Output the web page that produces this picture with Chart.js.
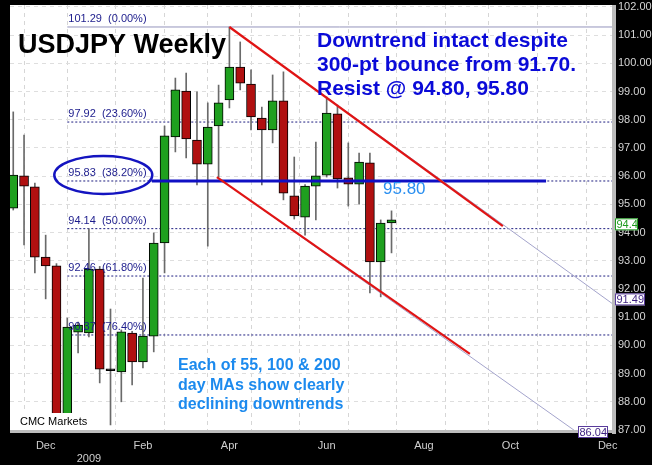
<!DOCTYPE html>
<html>
<head>
<meta charset="utf-8">
<script src="https://cdn.jsdelivr.net/npm/chart.js@4.4.1/dist/chart.umd.min.js"></script>
<style>
  html, body { margin: 0; background: #000; }
  #wrap { width: 652px; height: 465px; }
</style>
</head>
<body>
<div id="wrap"><canvas id="chart"></canvas></div>
<script>
// weekly candles, index 0 = week of 10 Nov 2008
const opens  = [94.87, 96.01, 95.62, 93.13, 92.82, 87.30, 90.47, 90.44, 92.71, 89.10, 89.06, 90.44, 89.41, 90.33, 93.63, 97.39, 99.02, 97.28,
                96.43, 97.78, 98.70, 99.87, 99.27, 98.06, 97.64, 98.67, 95.30, 94.55, 95.65, 96.04, 98.21, 95.94, 95.72, 96.47, 92.96, 94.34];
const highs  = [98.28, 97.46, 95.76, 93.91, 92.90, 90.97, 90.83, 94.13, 92.80, 91.29, 90.55, 90.50, 92.39, 93.99, 97.78, 99.48, 99.66, 98.99,
                98.60, 99.23, 101.29, 100.76, 99.77, 98.45, 99.59, 99.70, 96.68, 95.70, 97.21, 98.81, 98.52, 97.18, 96.82, 96.82, 94.45, 94.77];
const lows   = [94.80, 93.56, 92.57, 91.65, 87.13, 87.13, 89.73, 90.30, 88.67, 87.18, 88.00, 88.60, 89.20, 89.77, 92.57, 96.86, 96.65, 95.69,
                93.52, 95.97, 98.42, 99.06, 97.64, 95.69, 97.18, 95.16, 94.48, 93.91, 94.45, 95.97, 95.58, 94.94, 95.01, 91.86, 91.72, 93.28];
const closes = [96.04, 95.65, 93.13, 92.82, 87.30, 90.65, 90.72, 92.71, 89.16, 89.10, 90.48, 89.41, 90.33, 93.63, 97.43, 99.06, 97.32, 96.43,
                97.74, 98.60, 99.87, 99.30, 98.10, 97.64, 98.67, 95.40, 94.59, 95.65, 96.01, 98.24, 95.90, 95.72, 96.50, 92.96, 94.34, 94.45];

// fibonacci retracement of the 101.29 high
const fibLevels = [101.29, 97.92, 95.83, 94.14, 92.46, 90.37];
const fibPcts   = ['0.00%', '23.60%', '38.20%', '50.00%', '61.80%', '76.40%'];
const fibStart  = 5;

// month ticks (week index) and their labels
const monthTicks  = [3, 7, 12, 16, 20, 24, 29, 33, 38, 42, 46, 51, 55];
const monthLabels = ['Dec', ['', '2009'], 'Feb', '', 'Apr', '', 'Jun', '', 'Aug', '', 'Oct', '', 'Dec'];
const priceTicks  = [87, 88, 89, 90, 91, 92, 93, 94, 95, 96, 97, 98, 99, 100, 101, 102];

// channel lines: [start, end of red part, right edge]
const upperChannel = [{ x: 20, y: 101.29 }, { x: 45.3, y: 94.23 }, { x: 55.4, y: 91.49 }];
const lowerChannel = [{ x: 18.84, y: 95.97 }, { x: 42.25, y: 89.70 }, { x: 55.4, y: 86.04 }];
const resistLine   = [{ x: 12.83, y: 95.83 }, { x: 49.3, y: 95.83 }];

const X_MIN = -0.3, X_MAX = 55.4;
const FONT = '"Liberation Sans", Arial, sans-serif';

const candleColor = i => closes[i] > opens[i] ? '#1fa01f' : closes[i] < opens[i] ? '#b01010' : '#000';

const wickData = highs.map((h, i) => ({ x: i, y: [lows[i], h] }));
const bodyData = opens.map((o, i) => ({ x: i, y: [Math.min(o, closes[i]), Math.max(o, closes[i])] }));

const fibSets = fibLevels.map((lv, i) => ({
  type: 'line',
  data: [{ x: fibStart, y: lv }, { x: X_MAX, y: lv }],
  borderColor: i === 0 ? '#9494bc' : '#1e1e80',
  borderWidth: 1,
  borderDash: i === 0 ? [] : [2, 2],
  pointRadius: 0,
  order: 10,
}));

const lineSet = (data, color, width, order) => ({
  type: 'line', data, borderColor: color, borderWidth: width, pointRadius: 0, order,
});

const noPad = s => { s.paddingTop = 0; s.paddingBottom = 0; s.paddingLeft = 0; s.paddingRight = 0; };

const overlay = {
  id: 'overlay',
  beforeDraw(chart) {
    const { ctx, chartArea: a } = chart;
    ctx.save();
    ctx.fillStyle = '#000';
    ctx.fillRect(0, 0, chart.width, chart.height);
    ctx.fillStyle = '#fff';
    ctx.fillRect(a.left, a.top, a.right - a.left, a.bottom - a.top);
    ctx.restore();
  },
  afterDatasetsDraw(chart) {
    const { ctx, chartArea: a } = chart;
    const xs = chart.scales.x, ys = chart.scales.y;
    ctx.save();

    // fib labels
    ctx.font = '11px ' + FONT;
    ctx.fillStyle = '#1c1c8c';
    ctx.textBaseline = 'alphabetic';
    const fx = xs.getPixelForValue(fibStart) + 1;
    fibLevels.forEach((lv, i) => {
      ctx.fillText(`${lv.toFixed(2)}  (${fibPcts[i]})`, fx, ys.getPixelForValue(lv) - 5);
    });

    // ellipse around 38.2%
    ctx.strokeStyle = '#1414c0';
    ctx.lineWidth = 2.5;
    ctx.beginPath();
    ctx.ellipse(fx + 35, ys.getPixelForValue(95.83) - 6, 49, 19, 0, 0, Math.PI * 2);
    ctx.stroke();

    // title
    ctx.fillStyle = '#000';
    ctx.font = 'bold 27px ' + FONT;
    ctx.fillText('USDJPY Weekly', a.left + 8, 53);

    // commentary
    ctx.fillStyle = '#0a0ad8';
    ctx.font = 'bold 21px ' + FONT;
    ['Downtrend intact despite', '300-pt bounce from 91.70.', 'Resist @ 94.80, 95.80']
      .forEach((t, i) => ctx.fillText(t, 317, 47 + i * 24));

    ctx.fillStyle = '#2a8ff0';
    ctx.font = '17px ' + FONT;
    ctx.fillText('95.80', 383, 194);

    ctx.fillStyle = '#1c8aee';
    ctx.font = 'bold 16px ' + FONT;
    ['Each of 55, 100 & 200', 'day MAs show clearly', 'declining downtrends']
      .forEach((t, i) => ctx.fillText(t, 178, 370 + i * 19.5));

    // source tag
    ctx.fillStyle = '#fff';
    ctx.fillRect(a.left, a.bottom - 18, 74, 18);
    ctx.fillStyle = '#000';
    ctx.font = '11px ' + FONT;
    ctx.fillText('CMC Markets', a.left + 10, a.bottom - 6);

    // 3d frame
    ctx.fillStyle = '#bcbcbc';
    ctx.fillRect(a.right, a.top, 4, a.bottom - a.top + 3);
    ctx.fillRect(a.left, a.bottom - 1, a.right - a.left + 4, 3);

    // value boxes
    const box = (txt, left, cy, w, border, color) => {
      ctx.fillStyle = '#fff';
      ctx.fillRect(left, cy - 6, w, 12);
      ctx.strokeStyle = border;
      ctx.lineWidth = 1;
      ctx.strokeRect(left + 0.5, cy - 5.5, w - 1, 11);
      ctx.fillStyle = color;
      ctx.font = '11px ' + FONT;
      ctx.textBaseline = 'middle';
      ctx.fillText(txt, left + 1.5, cy + 0.5);
      ctx.textBaseline = 'alphabetic';
    };
    box('91.49', a.right + 3, ys.getPixelForValue(91.49) - 4, 30, '#5a3c9c', '#3c1f80');
    box('86.04', a.right - 34, a.bottom + 1, 30, '#5a3c9c', '#3c1f80');
    box('94.4', a.right + 3, ys.getPixelForValue(94.4) + 3, 23, '#1e9a1e', '#1e9a1e');

    ctx.restore();
  },
};

new Chart(document.getElementById('chart'), {
  type: 'bar',
  data: {
    datasets: [
      ...fibSets,
      { data: wickData, backgroundColor: '#6a6a6a', barThickness: 1, grouped: false, order: 6 },
      {
        data: bodyData,
        backgroundColor: opens.map((o, i) => candleColor(i)),
        borderColor: '#000', borderWidth: 1, borderSkipped: false,
        barThickness: 9, minBarLength: 2, grouped: false, order: 5,
      },
      lineSet(resistLine, '#1010c4', 3, 4),
      lineSet([upperChannel[0], upperChannel[2]], '#a4a4cc', 1, 3),
      lineSet([lowerChannel[0], lowerChannel[2]], '#a4a4cc', 1, 3),
      lineSet(upperChannel.slice(0, 2), '#e01414', 2.2, 2),
      lineSet(lowerChannel.slice(0, 2), '#e01414', 2.2, 2),
    ],
  },
  options: {
    responsive: true, maintainAspectRatio: false, animation: false, devicePixelRatio: 1,
    events: [],
    layout: { padding: { left: 10, top: 5, right: 0, bottom: 0 } },
    plugins: { legend: { display: false }, tooltip: { enabled: false } },
    scales: {
      x: {
        type: 'linear', min: X_MIN, max: X_MAX, offset: false,
        afterBuildTicks: s => { s.ticks = monthTicks.map(v => ({ value: v })); },
        afterFit: s => { s.height = 34; noPad(s); },
        grid: { color: '#d6d6d6', drawTicks: false },
        border: { display: false, dash: [4, 4] },
        ticks: {
          autoSkip: false, maxRotation: 0, padding: 8, color: '#cfcfcf',
          font: { family: FONT, size: 11 },
          callback: v => monthLabels[monthTicks.indexOf(v)] ?? '',
        },
      },
      y: {
        position: 'right', min: 86.965, max: 102.07,
        afterBuildTicks: s => { s.ticks = priceTicks.map(v => ({ value: v })); },
        afterFit: s => { s.width = 40; noPad(s); },
        grid: { color: '#dedede', drawTicks: false },
        border: { display: false, dash: [4, 4] },
        ticks: {
          padding: 6, color: '#d4d4d4',
          font: { family: FONT, size: 11 },
          callback: v => v.toFixed(2),
        },
      },
    },
  },
  plugins: [overlay],
});
</script>
</body>
</html>
